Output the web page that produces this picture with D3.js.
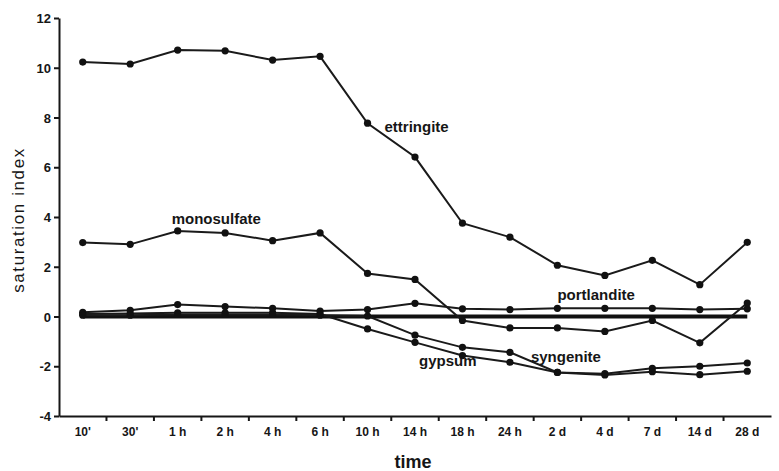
<!DOCTYPE html>
<html>
<head>
<meta charset="utf-8">
<script src="https://cdn.jsdelivr.net/npm/d3@7"></script>
<style>
  html, body { margin: 0; padding: 0; background: #fff; }
  svg { display: block; }
  text { font-family: "Liberation Sans", Arial, sans-serif; fill: #161616; }
</style>
</head>
<body>
<svg id="chart" width="779" height="471"></svg>
<script>
// Sampling times (x categories)
const times = ["10'", "30'", "1 h", "2 h", "4 h", "6 h", "10 h", "14 h", "18 h", "24 h", "2 d", "4 d", "7 d", "14 d", "28 d"];

// Saturation indices per mineral
const ettringite  = [10.23, 10.15, 10.71, 10.68, 10.31, 10.46, 7.77, 6.41, 3.75, 3.19, 2.06, 1.65, 2.26, 1.28, 2.98];
const monosulfate = [2.97, 2.90, 3.44, 3.36, 3.05, 3.36, 1.73, 1.49, -0.16, -0.46, -0.46, -0.60, -0.16, -1.06, 0.54];
const portlandite = [0.17, 0.25, 0.48, 0.40, 0.33, 0.22, 0.28, 0.53, 0.31, 0.28, 0.33, 0.33, 0.33, 0.28, 0.31];
const gypsum      = [0.10, 0.12, 0.15, 0.15, 0.15, 0.10, -0.50, -1.04, -1.57, -1.84, -2.25, -2.35, -2.22, -2.34, -2.20];
const syngenite   = [0.05, 0.05, 0.08, 0.08, 0.08, 0.05, 0.02, -0.75, -1.24, -1.44, -2.25, -2.30, -2.08, -2.00, -1.87];
// Equilibrium reference (SI = 0)
const equilibrium = times.map(() => 0);

const yTicks = [-4, -2, 0, 2, 4, 6, 8, 10, 12];

const series = [
  { name: "ettringite",  values: ettringite,  label: { at: "10 h", dx: 17, dy: 9 } },
  { name: "monosulfate", values: monosulfate, label: { at: "1 h",  dx: -6, dy: -7 } },
  { name: "portlandite", values: portlandite, label: { at: "2 d",  dx: 0, dy: -8 } },
  { name: "gypsum",      values: gypsum,      label: { at: "14 h", dx: 4, dy: 24 } },
  { name: "syngenite",   values: syngenite,   label: { at: "24 h", dx: 21, dy: 10 } }
];

const svg = d3.select("#chart");
const plotLeft = 59, plotRight = 771, plotTop = 18, plotBottom = 416;

const x = d3.scaleBand().domain(times).range([plotLeft, plotRight]).paddingInner(0).paddingOuter(0);
const cx = d => x(d) + x.bandwidth() / 2;
const y = d3.scaleLinear().domain([-4, 12]).range([plotBottom, plotTop]);

// Axes
const yAxis = d3.axisLeft(y).tickValues(yTicks).tickSize(5).tickSizeOuter(0).tickFormat(d => String(d));
const gy = svg.append("g").attr("transform", `translate(${plotLeft},0)`).call(yAxis);
gy.select(".domain").attr("stroke", "#161616").attr("stroke-width", 2);
gy.selectAll(".tick line").attr("stroke", "#161616").attr("stroke-width", 2);
gy.selectAll(".tick text").attr("x", -8).attr("dy", "0.35em").attr("fill", "#161616")
  .style("font-size", "13px").style("font-weight", "bold").style("font-family", "'Liberation Sans', Arial, sans-serif");

const xAxis = d3.axisBottom(x).tickSize(0).tickSizeOuter(0);
const gx = svg.append("g").attr("transform", `translate(0,${plotBottom})`).call(xAxis);
gx.select(".domain").attr("stroke", "#161616").attr("stroke-width", 2);
gx.selectAll(".tick text").attr("y", 16).attr("dy", "0.35em").attr("fill", "#161616")
  .style("font-size", "12px").style("font-weight", "bold")
  .style("font-family", "'Liberation Sans Narrow', 'Arial Narrow', 'Liberation Sans', Arial, sans-serif");
// Tick marks on category boundaries
gx.selectAll(".bound").data(times.slice(1)).enter().append("line")
  .attr("x1", d => x(d)).attr("x2", d => x(d)).attr("y1", 0).attr("y2", 5)
  .attr("stroke", "#161616").attr("stroke-width", 2);

// Axis titles
svg.append("text").attr("transform", `translate(24,${(plotTop + plotBottom) / 2 + 3}) rotate(-90)`)
  .attr("text-anchor", "middle").style("font-size", "17px").style("letter-spacing", "1.6px")
  .text("saturation index");
svg.append("text").attr("x", (plotLeft + plotRight) / 2 - 2).attr("y", 468)
  .attr("text-anchor", "middle").style("font-size", "18px").style("font-weight", "bold")
  .text("time");

const line = d3.line().x((d, i) => cx(times[i])).y(d => y(d));

// Equilibrium line
svg.append("path").datum(equilibrium).attr("d", line)
  .attr("fill", "none").attr("stroke", "#111").attr("stroke-width", 3.8);

// Mineral series
series.forEach(s => {
  svg.append("path").datum(s.values).attr("d", line)
    .attr("fill", "none").attr("stroke", "#1a1a1a").attr("stroke-width", 2);
  svg.selectAll(null).data(s.values).enter().append("circle")
    .attr("cx", (d, i) => cx(times[i])).attr("cy", d => y(d)).attr("r", 3.6)
    .attr("fill", "#111");
});

// Series labels
series.forEach(s => {
  const i = times.indexOf(s.label.at);
  svg.append("text")
    .attr("x", cx(s.label.at) + s.label.dx)
    .attr("y", y(s.values[i]) + s.label.dy)
    .style("font-size", "15px").style("font-weight", "bold")
    .text(s.name);
});
</script>
</body>
</html>
